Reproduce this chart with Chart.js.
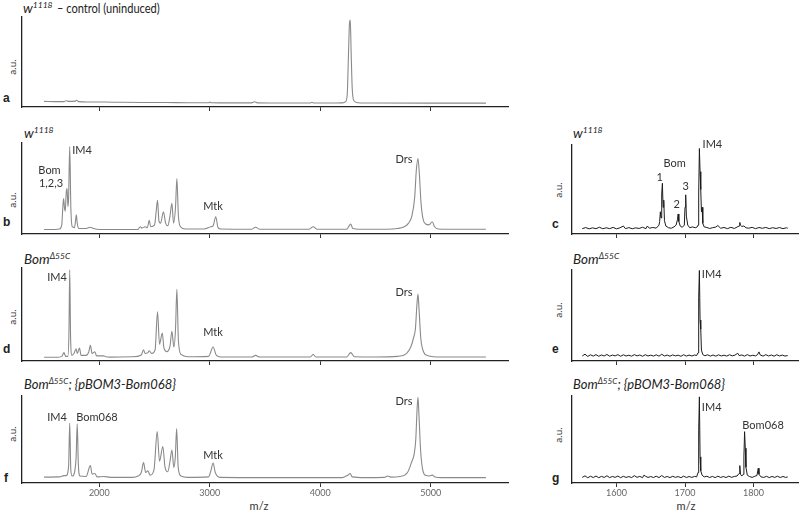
<!DOCTYPE html>
<html>
<head>
<meta charset="utf-8">
<script src="https://cdn.jsdelivr.net/npm/chart.js@4"></script>
<style>
body { margin: 0; width: 800px; height: 511px; background: #fff; position: relative; overflow: hidden; font-family: Lato, "Open Sans", sans-serif; color: #222; }
canvas { position: absolute; }
.t { position: absolute; font-size: 13.5px; white-space: nowrap; line-height: 14px; transform-origin: left center; }
.t sup { font-size: 8.5px; vertical-align: 5px; line-height: 0; }
.t .r { display: inline-block; transform: scaleX(0.82); transform-origin: left center; margin-left: 4px; }
.l { position: absolute; font: bold 12px "Liberation Sans", Arial, sans-serif; line-height: 12px; }
.au { position: absolute; font-size: 10px; color: #333; transform: rotate(-90deg); width: 30px; text-align: center; line-height: 10px; }
.mz { position: absolute; font-size: 11px; color: #333; width: 40px; text-align: center; }
</style>
</head>
<body>

<div class="t" style="left:23px;top:1px"><i>w<sup>1118</sup></i><span class="r">– control (uninduced)</span></div>
<div class="t" style="left:24px;top:126px"><i>w<sup>1118</sup></i></div>
<div class="t" style="left:24px;top:252px"><i>Bom<sup>Δ55C</sup></i></div>
<div class="t" style="left:24px;top:377px;transform:scaleX(0.96)"><i>Bom<sup>Δ55C</sup>; {pBOM3-Bom068}</i></div>
<div class="t" style="left:573px;top:126px"><i>w<sup>1118</sup></i></div>
<div class="t" style="left:573px;top:252px"><i>Bom<sup>Δ55C</sup></i></div>
<div class="t" style="left:573px;top:377px;transform:scaleX(0.96)"><i>Bom<sup>Δ55C</sup>; {pBOM3-Bom068}</i></div>

<div class="l" style="left:3px;top:92px">a</div>
<div class="l" style="left:3px;top:216px">b</div>
<div class="l" style="left:3px;top:343px">d</div>
<div class="l" style="left:4px;top:472px">f</div>
<div class="l" style="left:552px;top:218px">c</div>
<div class="l" style="left:552px;top:343px">e</div>
<div class="l" style="left:552px;top:472px">g</div>

<div class="au" style="left:-3px;top:62px">a.u.</div>
<div class="au" style="left:-3px;top:195px">a.u.</div>
<div class="au" style="left:-3px;top:312px">a.u.</div>
<div class="au" style="left:-3px;top:429px">a.u.</div>
<div class="au" style="left:543px;top:185px">a.u.</div>
<div class="au" style="left:543px;top:305px">a.u.</div>
<div class="au" style="left:543px;top:430px">a.u.</div>

<div class="mz" style="left:239px;top:499px">m/z</div>
<div class="mz" style="left:666px;top:499px">m/z</div>

<canvas id="cA"></canvas>
<canvas id="cB"></canvas>
<canvas id="cD"></canvas>
<canvas id="cF"></canvas>
<canvas id="cC"></canvas>
<canvas id="cE"></canvas>
<canvas id="cG"></canvas>

<script>
// tick labels
const ticksLeft = [2000, 3000, 4000, 5000];
const ticksRight = [1600, 1700, 1800];

// panel a: w1118 control (uninduced)
const mzA =  [1500, 1600, 1680, 1700, 1720, 1780, 1795, 1810, 1900, 2050, 2200, 2400, 2600, 2800, 2990, 3000, 3010, 3200, 3380, 3405, 3430, 3700, 3910, 3925, 3940, 4150, 4200, 4230, 4245, 4255, 4265, 4272, 4280, 4290, 4305, 4340, 4500, 5000, 5500];
const intA = [6.2, 6.0, 6.0, 7.0, 6.2, 6.5, 7.5, 6.0, 5.6, 5.5, 5.2, 5.0, 5.0, 4.8, 4.8, 5.6, 4.8, 4.6, 4.6, 5.8, 4.6, 4.4, 4.4, 5.3, 4.4, 4.4, 4.6, 6.0, 15, 55, 93, 96.5, 60, 20, 7, 4.8, 4.4, 4.3, 4.3];

// panel b: w1118 induced
const mzB =  [1500, 1600, 1640, 1660, 1670, 1677, 1685, 1692, 1700, 1708, 1716, 1722, 1732, 1742, 1755, 1775, 1785, 1792, 1800, 1815, 1880, 1919, 1950, 2000, 2200, 2350, 2370, 2385, 2415, 2435, 2452, 2465, 2500, 2515, 2527, 2540, 2555, 2580, 2600, 2620, 2640, 2657, 2672, 2690, 2702, 2716, 2735, 2780, 2950, 3009, 3030, 3054, 3075, 3100, 3380, 3415, 3450, 3900, 3936, 3970, 4240, 4262, 4276, 4295, 4350, 4600, 4700, 4760, 4800, 4830, 4855, 4870, 4885, 4898, 4912, 4930, 4955, 4985, 5014, 5035, 5070, 5150, 5500];
const intB = [5, 5, 5.5, 10, 30, 39, 28, 25, 45, 50, 30, 40, 96, 30, 8, 7, 15, 21, 12, 6, 6, 7.5, 6, 5, 5, 5, 8, 6.5, 8, 7, 15, 8, 10, 25, 37, 14, 12, 24.5, 12, 9, 20, 33.7, 12, 30, 61, 20, 8, 5.5, 5.5, 8, 9, 19, 7, 5.5, 5.3, 7.5, 5.3, 5.3, 8, 5.3, 5.3, 9, 11, 6, 5.3, 5.3, 6, 8, 12, 20, 40, 70, 83, 65, 35, 17, 11, 10, 13.5, 8, 5.5, 5.3, 5.3];

// panel d: Bom delta55C
const mzD =  [1500, 1620, 1660, 1680, 1695, 1715, 1725, 1732, 1740, 1752, 1770, 1790, 1800, 1820, 1835, 1880, 1905, 1919, 1935, 1960, 1975, 2040, 2060, 2100, 2300, 2380, 2400, 2415, 2440, 2452, 2475, 2505, 2527, 2545, 2570, 2585, 2610, 2640, 2657, 2675, 2690, 2702, 2716, 2740, 2800, 2990, 3030, 3060, 3100, 3380, 3415, 3450, 3910, 3936, 3960, 4240, 4276, 4310, 4500, 4700, 4780, 4820, 4845, 4862, 4875, 4885, 4895, 4910, 4935, 4970, 5100, 5500];
const intD = [4, 4, 5, 9, 5, 5, 30, 98, 25, 6, 8, 13, 8, 14, 6, 6, 10, 17, 8, 10, 5.5, 5.5, 4.5, 4.2, 4.5, 6.5, 12, 8, 9, 11, 8, 12, 53, 18, 30, 14, 10, 16, 32, 15, 35, 77, 22, 7, 4.5, 5, 15, 6, 4.3, 4.3, 6, 4.3, 4.3, 7, 4.3, 4.3, 9, 4.5, 4.3, 5, 8, 15, 25, 35, 60, 72, 55, 25, 10, 6, 4.3, 4.3];

// panel f: Bom delta55C; {pBOM3-Bom068}
const mzF =  [1500, 1640, 1680, 1700, 1722, 1732, 1742, 1755, 1775, 1790, 1800, 1810, 1825, 1880, 1919, 1935, 1960, 1980, 2040, 2100, 2300, 2350, 2380, 2400, 2420, 2440, 2460, 2495, 2524, 2545, 2575, 2595, 2620, 2640, 2657, 2675, 2688, 2700, 2714, 2740, 2800, 2990, 3010, 3030, 3050, 3090, 3500, 4200, 4250, 4270, 4290, 4400, 4580, 4610, 4640, 4720, 4790, 4830, 4850, 4865, 4877, 4885, 4895, 4910, 4930, 4960, 4990, 5014, 5040, 5100, 5500];
const intF = [6.8, 7, 8.5, 8.5, 20, 69, 15, 8, 12, 30, 68, 22, 8, 7.5, 20, 10, 11, 7, 7.5, 6.5, 6.5, 8, 12, 23.5, 12, 14, 9, 15, 59, 25, 42, 18, 13, 25, 38, 18, 30, 62.5, 18, 8, 6.5, 7, 14, 23, 12, 6.5, 6.2, 6.2, 9, 11, 7, 6.2, 6.5, 8, 6.8, 7.5, 12, 25, 33, 50, 85, 98.5, 75, 35, 14, 8.5, 8, 9, 7, 6.2, 6.2];

// panel c: w1118 zoom
const mzC =  [1550, 1555, 1560, 1565, 1570, 1575, 1580, 1585, 1590, 1595, 1600, 1605, 1610, 1613, 1618, 1623, 1628, 1633, 1638, 1643, 1645, 1648, 1653, 1658, 1662, 1663, 1664, 1665, 1666, 1667, 1668, 1669, 1670, 1672, 1676, 1680, 1684, 1687, 1689, 1690, 1691, 1693, 1696, 1699, 1700, 1701, 1702, 1704, 1707, 1711, 1715, 1718, 1719, 1720, 1721, 1722, 1723, 1724, 1725, 1726, 1728, 1732, 1736, 1740, 1745, 1748, 1752, 1757, 1762, 1767, 1772, 1776, 1779, 1780, 1781, 1783, 1786, 1789, 1793, 1798, 1803, 1808, 1813, 1818, 1823, 1828, 1833, 1838, 1843, 1848, 1850];
const intC = [6, 7.2, 5.8, 6.9, 6, 7.6, 5.9, 7, 6, 7.4, 5.8, 6.9, 9, 6, 7.2, 5.9, 6.9, 6.2, 7.6, 6, 9, 6.5, 7.3, 6.6, 10, 14, 25, 18, 45, 57, 30, 38, 15, 9, 7, 6.5, 8, 10, 16, 22.5, 14, 9, 7.5, 10, 30, 44, 20, 10, 7, 8, 7, 8, 10, 45, 96, 70, 50, 25, 30, 12, 8, 7.3, 6.2, 7, 7.8, 9.5, 6.5, 7.3, 6, 7.5, 6.2, 7.8, 9, 13, 10, 8.5, 9, 7, 6.5, 7.5, 6, 7.3, 6.4, 7.4, 6, 7.1, 6.2, 7.3, 6, 7, 6.5];

// panel e: Bom delta55C zoom
const mzE =  [1550, 1554, 1558, 1562, 1566, 1570, 1574, 1578, 1582, 1586, 1590, 1594, 1598, 1602, 1606, 1610, 1614, 1618, 1622, 1626, 1630, 1634, 1638, 1642, 1646, 1650, 1654, 1658, 1662, 1666, 1670, 1674, 1678, 1682, 1686, 1690, 1694, 1698, 1702, 1706, 1710, 1714, 1717, 1719, 1720, 1721, 1722, 1723, 1724, 1726, 1729, 1733, 1737, 1741, 1745, 1749, 1753, 1757, 1761, 1765, 1769, 1773, 1777, 1779, 1783, 1787, 1791, 1795, 1799, 1803, 1806, 1808, 1810, 1814, 1818, 1822, 1826, 1830, 1834, 1838, 1842, 1846, 1850];
const intE = [5.5, 7.5, 5, 6.8, 5.4, 7, 5.2, 6.6, 5.5, 7.2, 5.3, 6.5, 5.6, 7, 5.2, 6.8, 5.5, 6.4, 5.3, 7, 5.6, 6.6, 5.2, 6.9, 5.5, 6.4, 5.4, 6.8, 5.3, 7.4, 5.5, 6.5, 5.3, 6.7, 5.6, 6.4, 5.2, 6.9, 5.4, 6.5, 5.5, 6.6, 6, 9, 70, 99.5, 45, 35, 12, 7, 5.8, 6.8, 5.4, 6.6, 5.3, 6.8, 5.5, 6.4, 5.4, 6.9, 5.6, 6.5, 8.5, 6, 6.6, 5.4, 7, 5.5, 6.3, 5.6, 7, 10, 6.5, 5.4, 7, 5.5, 6.6, 5.3, 6.9, 5.5, 6.5, 5.4, 6];

// panel g: Bom delta55C; {pBOM3-Bom068} zoom
const mzG =  [1550, 1554, 1558, 1562, 1566, 1570, 1574, 1578, 1582, 1586, 1590, 1594, 1598, 1602, 1606, 1610, 1614, 1618, 1622, 1626, 1630, 1634, 1638, 1640, 1642, 1646, 1650, 1654, 1658, 1662, 1666, 1670, 1674, 1678, 1682, 1686, 1690, 1694, 1698, 1702, 1706, 1710, 1714, 1717, 1719, 1720, 1721, 1722, 1723, 1725, 1728, 1732, 1736, 1740, 1744, 1748, 1752, 1756, 1760, 1764, 1768, 1772, 1776, 1779, 1780, 1781, 1783, 1785, 1786, 1787, 1788, 1789, 1791, 1794, 1798, 1802, 1805, 1807, 1808, 1811, 1815, 1819, 1823, 1827, 1831, 1835, 1839, 1843, 1847, 1850];
const intG = [6.5, 8.2, 6, 7.8, 6.3, 8, 6.1, 7.6, 6.4, 8.3, 6.2, 7.5, 6.5, 8, 6.1, 7.7, 6.4, 7.4, 6.2, 8.4, 6.5, 7.6, 6.1, 9, 7.9, 6.4, 7.4, 6.3, 7.8, 6.2, 8.6, 6.4, 7.5, 6.2, 7.7, 6.5, 7.4, 6.1, 7.9, 6.3, 7.5, 6.4, 7.6, 7, 12, 60, 99, 30, 14, 9, 7, 7.8, 6.3, 7.6, 6.2, 7.8, 6.4, 7.4, 6.3, 7.9, 6.5, 7.5, 8, 11, 20, 10, 8, 10, 30, 59, 40, 18, 9, 7.5, 6.4, 7.8, 8.5, 17, 10, 7, 6.4, 7.7, 6.2, 7.5, 6.4, 7.8, 6.3, 7.5, 6.4, 7];

// peak labels: text, m/z, height (0-100)
const tagsB = [["IM4", 1843, 92], ["Bom", 1549, 70], ["1,2,3", 1563, 56], ["Mtk", 3029, 30], ["Drs", 4759, 82]];
const tagsD = [["IM4", 1617, 90], ["Mtk", 3029, 31], ["Drs", 4759, 74]];
const tagsF = [["IM4", 1617, 75], ["Bom068", 1979, 75], ["Mtk", 3029, 32], ["Drs", 4759, 94]];
const tagsC = [["IM4", 1740, 101], ["Bom", 1685, 79], ["1", 1663, 64], ["3", 1701, 53], ["2", 1688, 33]];
const tagsE = [["IM4", 1739, 95]];
const tagsG = [["IM4", 1739, 87], ["Bom068", 1814, 66]];

const tagPlugin = {
    id: "tags",
    afterDatasetsDraw(chart) {
        const tags = chart.options.plugins.tags.list;
        const ctx = chart.ctx;
        ctx.save();
        ctx.font = "11px Lato, 'Open Sans', sans-serif";
        ctx.fillStyle = "#333";
        ctx.textAlign = "center";
        ctx.textBaseline = "middle";
        tags.forEach(t => {
            ctx.fillText(t[0], chart.scales.x.getPixelForValue(t[1]), chart.scales.y.getPixelForValue(t[2]));
        });
        ctx.restore();
    }
};

function crearPanel(id, mz, vals, tags, caja) {
    const canvas = document.getElementById(id);
    const izquierda = caja.lado === "L";
    const conEtiquetas = caja.etiquetas;
    const alto = caja.abajo - caja.arriba;
    const pie = conEtiquetas ? 15.8 : 4;
    canvas.width = izquierda ? 515 : 244;
    canvas.height = Math.ceil(14 + alto + pie + 1);
    canvas.style.left = (izquierda ? 0 : 556) + "px";
    canvas.style.top = (caja.arriba - 14) + "px";
    const padBottom = canvas.height - 14 - alto - pie;

    return new Chart(canvas, {
        type: "line",
        data: {
            datasets: [{
                data: mz.map((m, i) => ({ x: m, y: vals[i] })),
                borderColor: izquierda ? "#8a8a8a" : "#1c1c1c",
                borderWidth: izquierda ? 1.1 : 1,
                pointRadius: 0,
                cubicInterpolationMode: izquierda ? "monotone" : "default",
                tension: 0
            }]
        },
        options: {
            responsive: false,
            animation: false,
            layout: { padding: { left: izquierda ? 22 : 16, right: izquierda ? 7 : 2, top: 14, bottom: padBottom } },
            plugins: { legend: { display: false }, tooltip: { enabled: false }, tags: { list: tags } },
            scales: {
                x: {
                    type: "linear",
                    min: izquierda ? 1300 : 1535,
                    max: izquierda ? 5700 : 1865,
                    afterBuildTicks: s => { s.ticks = (izquierda ? ticksLeft : ticksRight).map(v => ({ value: v })); },
                    grid: { display: true, drawOnChartArea: false, drawTicks: true, tickLength: 4, color: "#333" },
                    border: { display: true, color: "#222", width: 1.3 },
                    ticks: {
                        display: conEtiquetas,
                        padding: 1,
                        color: "#666",
                        font: { size: 9, family: "Lato, 'Open Sans', sans-serif" },
                        callback: v => String(v)
                    }
                },
                y: {
                    min: 0,
                    max: 100,
                    ticks: { display: false },
                    grid: { display: false, drawTicks: false },
                    border: { display: true, color: "#222", width: 1.3 }
                }
            }
        },
        plugins: [tagPlugin]
    });
}

crearPanel("cA", mzA, intA, [], { lado: "L", arriba: 17, abajo: 107, etiquetas: false });
crearPanel("cB", mzB, intB, tagsB, { lado: "L", arriba: 143, abajo: 234, etiquetas: false });
crearPanel("cD", mzD, intD, tagsD, { lado: "L", arriba: 268, abajo: 361, etiquetas: false });
crearPanel("cF", mzF, intF, tagsF, { lado: "L", arriba: 396, abajo: 484, etiquetas: true });
crearPanel("cC", mzC, intC, tagsC, { lado: "R", arriba: 145, abajo: 234, etiquetas: false });
crearPanel("cE", mzE, intE, tagsE, { lado: "R", arriba: 270, abajo: 361, etiquetas: false });
crearPanel("cG", mzG, intG, tagsG, { lado: "R", arriba: 396, abajo: 484, etiquetas: true });
</script>
</body>
</html>
